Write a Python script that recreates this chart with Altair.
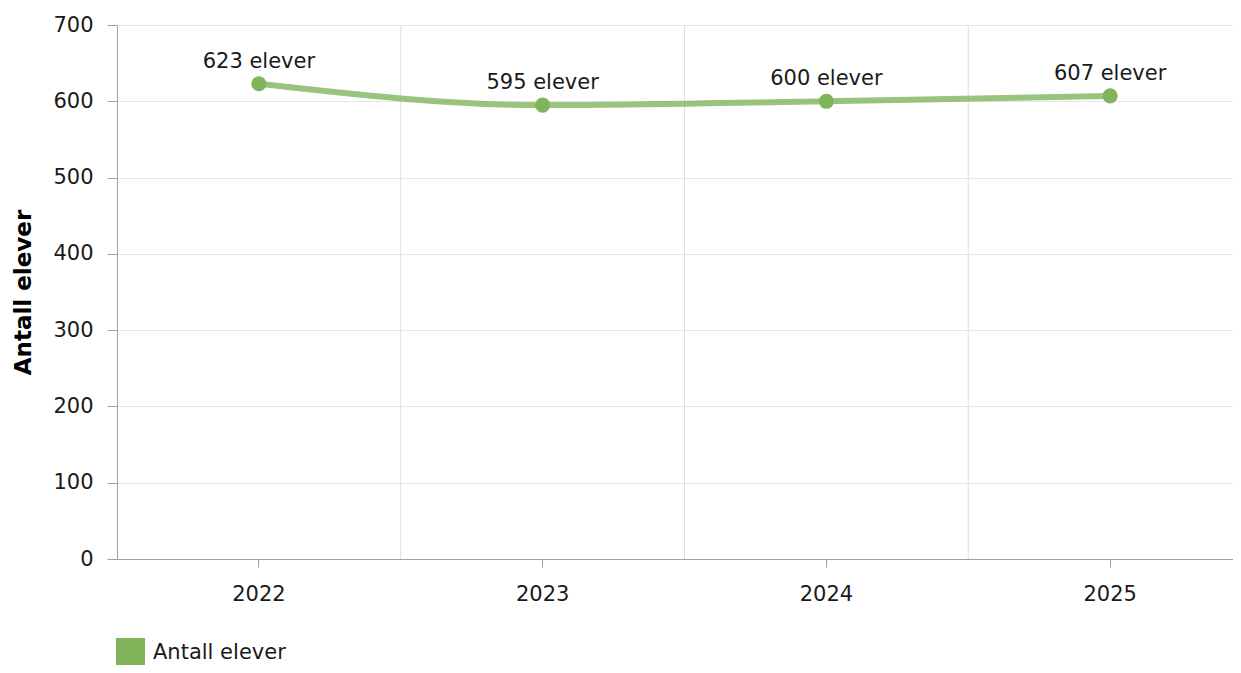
import altair as alt
import pandas as pd

years = ["2022", "2023", "2024", "2025"]
values = [623, 595, 600, 607]
series_name = "Antall elever"
grid_years = ["2023", "2024", "2025"]

df = pd.DataFrame({"year": years, "value": values, "series": [series_name] * len(years)})
df["label"] = df["value"].astype(str) + " elever"
grid_df = pd.DataFrame({"year": grid_years})

FONT = "DejaVu Sans"
GREEN = "#80b55c"

x_scale = alt.Scale(domain=years, range=[0, 1135], paddingInner=0, paddingOuter=0)
y_scale = alt.Scale(domain=[0, 700], nice=False)

x_axis = alt.Axis(title=None, labelAngle=0, labelFontSize=21, labelColor="#1a1a1a",
                  labelPadding=16, tickSize=8, tickColor="#a0a0a0", domainColor="#a0a0a0",
                  grid=False, labelFont=FONT)
y_axis = alt.Axis(title="Antall elever", titleFontSize=23, titleFontWeight="bold",
                  titleColor="#000000", titleFont=FONT, titlePadding=17,
                  values=list(range(0, 701, 100)), labelFontSize=21, labelColor="#1a1a1a",
                  labelFont=FONT, labelPadding=14, tickSize=10, tickColor="#a0a0a0",
                  domainColor="#a0a0a0", gridColor="#e6e6e6", grid=True)

vgrid = alt.Chart(grid_df).mark_rule(color="#dedede", strokeWidth=1).encode(
    x=alt.X("year:N", scale=x_scale, axis=x_axis, bandPosition=0),
)

line = alt.Chart(df).mark_line(interpolate="monotone", strokeWidth=6, opacity=0.8).encode(
    x=alt.X("year:N", scale=x_scale, axis=x_axis),
    y=alt.Y("value:Q", scale=y_scale, axis=y_axis),
    color=alt.Color("series:N", scale=alt.Scale(domain=[series_name], range=[GREEN]),
                    legend=alt.Legend(title=None, orient="none", legendX=-1, legendY=613,
                                      symbolType="square", symbolSize=841,
                                      symbolStrokeWidth=0, symbolOpacity=1,
                                      labelFontSize=21, labelFont=FONT, labelColor="#1a1a1a",
                                      labelOffset=8)),
)

points = alt.Chart(df).mark_point(filled=True, size=230, opacity=1).encode(
    x=alt.X("year:N", scale=x_scale, axis=x_axis),
    y=alt.Y("value:Q", scale=y_scale, axis=y_axis),
    color=alt.Color("series:N", scale=alt.Scale(domain=[series_name], range=[GREEN]), legend=None),
)

labels = alt.Chart(df).mark_text(dy=-22, fontSize=21, font=FONT, color="#1a1a1a").encode(
    x=alt.X("year:N", scale=x_scale, axis=x_axis),
    y=alt.Y("value:Q", scale=y_scale, axis=y_axis),
    text="label:N",
)

chart = alt.layer(vgrid, line, points, labels).properties(
    width=1116, height=534,
    autosize=alt.AutoSizeParams(type="none"),
    padding={"left": 109, "top": 17, "right": 0, "bottom": 106},
).configure_view(stroke=None).configure(font=FONT)

chart.save("out.html", embed_options={"renderer": "svg", "actions": False})
